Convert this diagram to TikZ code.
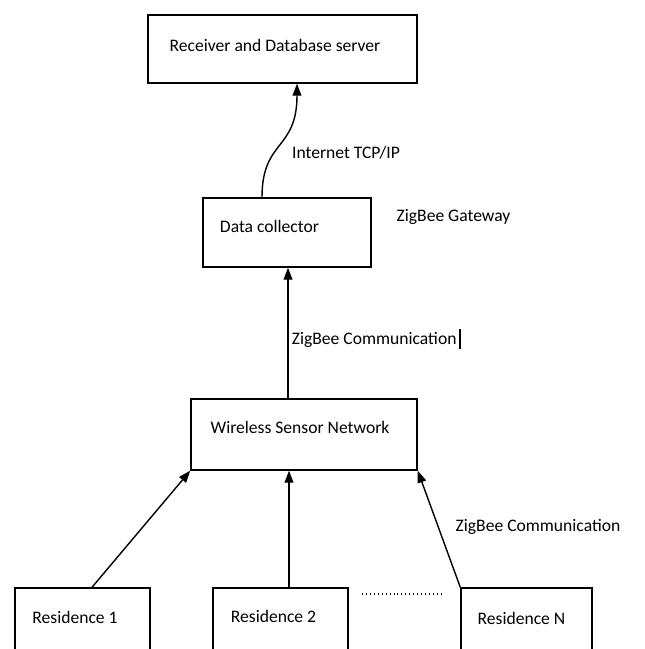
\documentclass[tikz,border=0pt]{standalone}
\usepackage{fontspec}
\setmainfont{Carlito}
\usetikzlibrary{arrows.meta,calc}

\begin{document}
\begin{tikzpicture}[x=0.025cm,y=-0.025cm,
	box/.style={draw,line width=1pt,inner sep=0pt},
	txt/.style={font=\fontsize{12.5}{15}\selectfont,inner sep=0pt},
	arr/.style={line width=1pt,-{Triangle[length=0.3cm,width=0.22cm]}}]

\clip (0,0) rectangle (644,649);

\node [box,minimum width=6.725cm,minimum height=1.7cm] (srv) at (282.5,49) {};
\node [box,minimum width=4.2cm,minimum height=1.725cm] (dc) at (287,232.5) {};
\node [box,minimum width=5.65cm,minimum height=1.775cm] (wsn) at (304,434.5) {};

\node [box,minimum width=3.375cm,minimum height=1.6cm] (r1) at (82.5,620) {};
\node [box,minimum width=3.375cm,minimum height=1.6cm] (r2) at (280.5,620) {};
\node [box,minimum width=3.275cm,minimum height=1.6cm] (rn) at (526.5,620) {};

\node [txt] (srvtext) at (275,45)	{Receiver and Database server};
\node [txt] (dctext) at (269.5,226)	{Data collector};
\node [txt] (wsntext) at (300,427)	{Wireless Sensor Network};
\node [txt] (r1text) at (75,617)	{Residence 1};
\node [txt] (r2text) at (273.5,616)	{Residence 2};
\node [txt] (rntext) at (521.5,618)	{Residence N};

\node [txt] (inet) at (346,153)		{Internet TCP/IP};
\node [txt] (gw) at (453.5,217)		{ZigBee Gateway};
\node [txt] (zb1) at (376.5,339)	{ZigBee Communication\,\rule[-0.25em]{1.2pt}{1.15em}};
\node [txt] (zb2) at (538,527)		{ZigBee Communication};

% internet link
\draw [arr] ($(dc.north)+(-25,0)$) .. controls ($(dc.north)+(-25,-58)$) and ($(srv.south)+(14.5,67)$) .. ($(srv.south)+(14.5,0)$);

% zigbee links
\coordinate (up) at ($(wsn.north)+(-16,0)$);
\draw [arr] (up) -- (up |- dc.south);

\draw [arr] ($(r1.north)+(9.5,0)$) -- (wsn.south west);
\coordinate (r2top) at ($(r2.north)+(8.5,0)$);
\draw [arr] (r2top) -- (r2top |- wsn.south);
\draw [arr] (rn.north west) -- (wsn.south east);

\coordinate (d1) at (362,594);
\coordinate (d2) at (443,594);
\draw [line width=1.3pt,dash pattern=on 0.6pt off 2.2pt] (d1) -- (d2);

\end{tikzpicture}
\end{document}
